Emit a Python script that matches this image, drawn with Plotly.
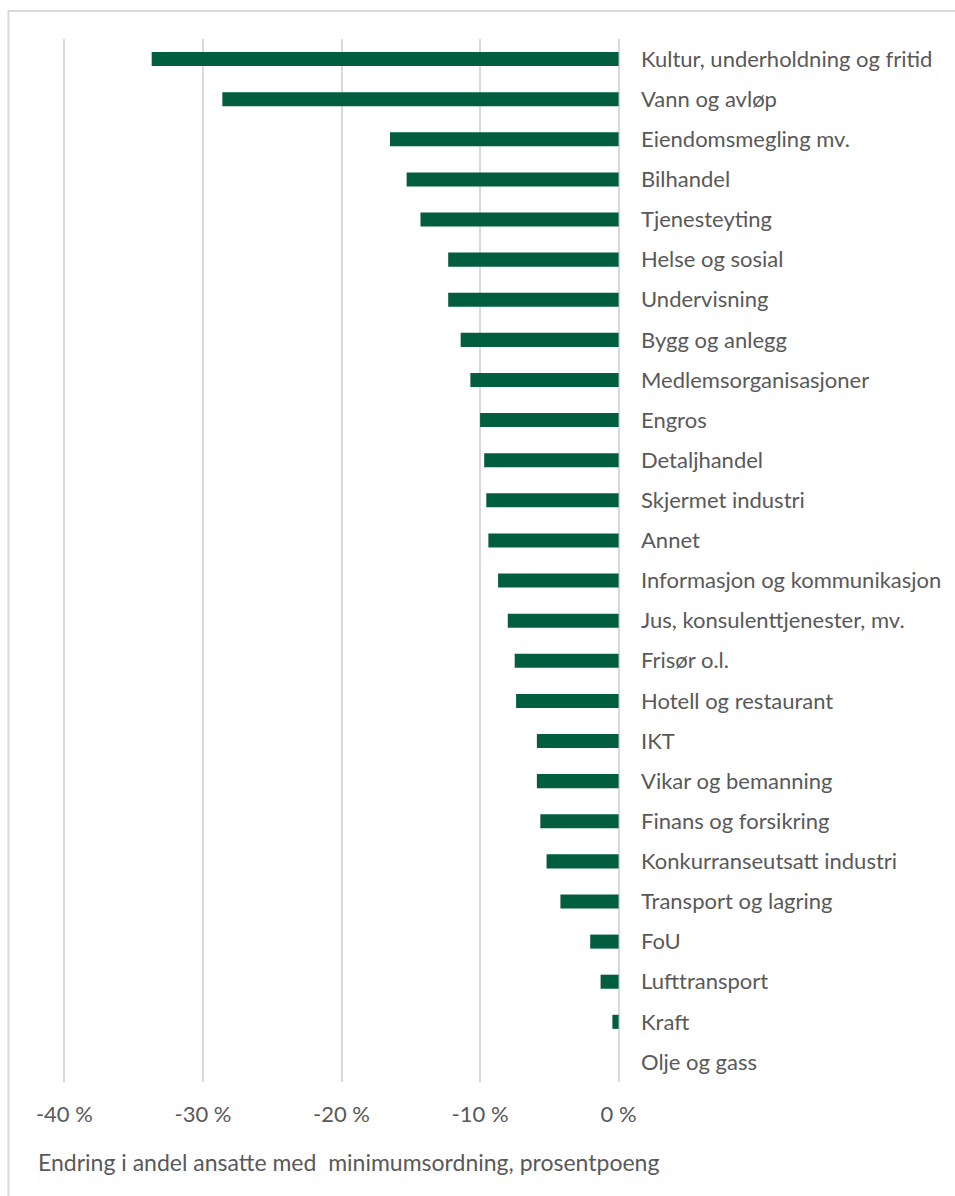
import plotly.graph_objects as go

# Endring i andel ansatte med minimumsordning, per næring (prosentpoeng)
naeringer = [
    "Kultur, underholdning og fritid",
    "Vann og avløp",
    "Eiendomsmegling mv.",
    "Bilhandel",
    "Tjenesteyting",
    "Helse og sosial",
    "Undervisning",
    "Bygg og anlegg",
    "Medlemsorganisasjoner",
    "Engros",
    "Detaljhandel",
    "Skjermet industri",
    "Annet",
    "Informasjon og kommunikasjon",
    "Jus, konsulenttjenester, mv.",
    "Frisør o.l.",
    "Hotell og restaurant",
    "IKT",
    "Vikar og bemanning",
    "Finans og forsikring",
    "Konkurranseutsatt industri",
    "Transport og lagring",
    "FoU",
    "Lufttransport",
    "Kraft",
    "Olje og gass",
]
endring = [
    -33.7, -28.6, -16.5, -15.3, -14.3, -12.3, -12.3, -11.4, -10.7, -10.0,
    -9.7, -9.55, -9.4, -8.7, -8.0, -7.5, -7.4, -5.9, -5.9, -5.65,
    -5.2, -4.2, -2.05, -1.3, -0.45, 0.0,
]
x_ticks = [-40, -30, -20, -10, 0]
x_ticktext = ["-40 %", "-30 %", "-20 %", "-10 %", "0 %"]
akse_tittel = "Endring i andel ansatte med\u00a0 minimumsordning, prosentpoeng"

W, H = 955, 1196
# small padding on the x range so the outer gridlines (-40 % and 0 %) are drawn
X_PAD = 0.1
PX_PER_UNIT = 554.7 / 40
ML = 64 - X_PAD * PX_PER_UNIT
MR = W - 618.7 - X_PAD * PX_PER_UNIT
MT, MB = 39, 114
pw, ph = W - ML - MR, H - MT - MB

GREEN = "#025E3E"
GRID = "#D9D9D9"
TXT = "#595959"
FONT = "Lato, Open Sans, sans-serif"
FS = 22

fig = go.Figure(
    go.Bar(
        x=endring,
        y=naeringer,
        orientation="h",
        marker=dict(color=GREEN, line=dict(width=0)),
        width=0.35,
        hoverinfo="x+y",
    )
)

fig.update_layout(
    width=W,
    height=H,
    margin=dict(l=ML, r=MR, t=MT, b=MB, pad=0),
    paper_bgcolor="white",
    plot_bgcolor="white",
    showlegend=False,
    font=dict(family=FONT, size=FS, color=TXT),
    xaxis=dict(
        range=[-40 - X_PAD, 0 + X_PAD],
        tickvals=x_ticks,
        ticktext=x_ticktext,
        showgrid=True,
        gridcolor=GRID,
        gridwidth=1.5,
        zeroline=False,
        showline=False,
        ticks="",
        ticklabelstandoff=17,
        tickfont=dict(size=FS, color=TXT),
        fixedrange=True,
    ),
    yaxis=dict(
        side="right",
        autorange="reversed",
        showgrid=False,
        zeroline=False,
        showline=False,
        ticks="",
        ticklabelstandoff=20,
        tickfont=dict(size=FS, color=TXT),
        fixedrange=True,
    ),
    annotations=[
        dict(
            text=akse_tittel,
            xref="paper",
            yref="paper",
            x=(36 - ML) / pw,
            y=-(1162 - (MT + ph)) / ph,
            xanchor="left",
            yanchor="middle",
            showarrow=False,
            font=dict(size=23, color=TXT, family=FONT),
        )
    ],
    shapes=[
        # chart frame
        dict(
            type="rect",
            xref="paper",
            yref="paper",
            x0=(8 - ML) / pw,
            x1=(W + 10 - ML) / pw,
            y0=-(H + 10 - (MT + ph)) / ph,
            y1=1 + (MT - 11) / ph,
            line=dict(color=GRID, width=2),
            fillcolor="rgba(0,0,0,0)",
            layer="below",
        )
    ],
)

fig.write_html("out.html")
